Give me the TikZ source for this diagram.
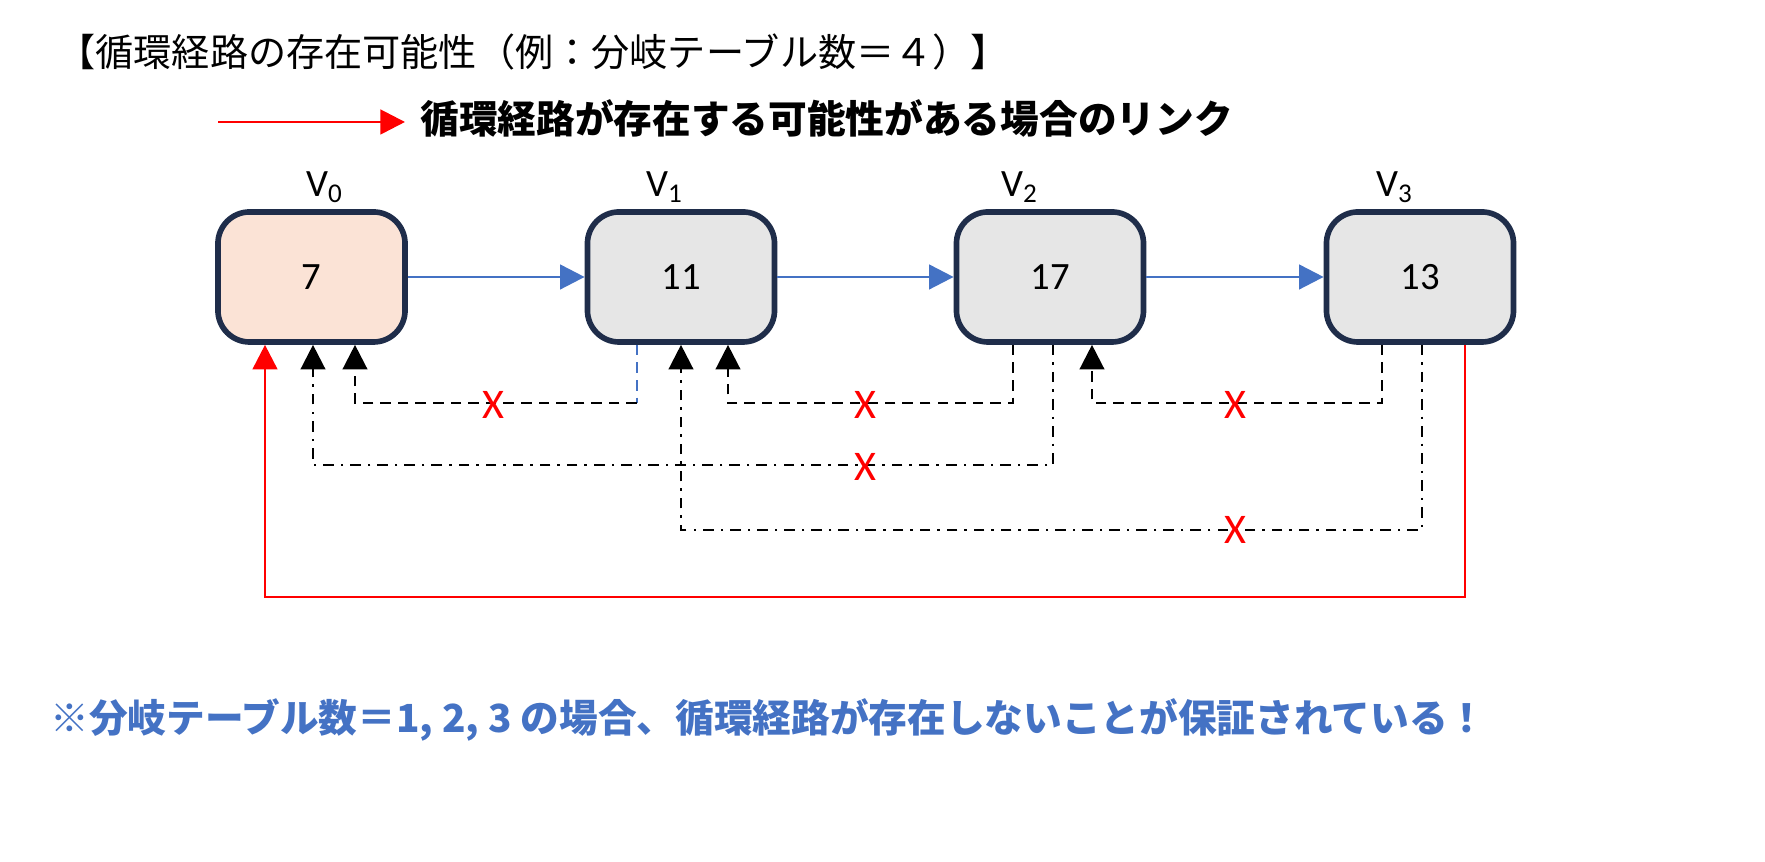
\documentclass[tikz,border=0pt]{standalone}
\usepackage{fontspec}
\setmainfont{Carlito}
\newfontfamily\cjk{Noto Sans CJK JP}
\usetikzlibrary{arrows.meta}
\definecolor{boxline}{HTML}{1F2D4A}
\definecolor{peach}{HTML}{FBE3D6}
\definecolor{lgray}{HTML}{E6E6E6}
\definecolor{linkblue}{HTML}{4472C4}
\tikzset{
  tbl/.style={draw=boxline, line width=1.6pt, rounded corners=9pt, minimum width=1.87cm, minimum height=1.30cm, font=\fontsize{11}{13}\selectfont},
  fwd/.style={draw=linkblue, line width=0.8pt, -{Triangle[length=7pt,width=7pt]}},
  back/.style={black, line width=0.7pt, densely dashed, -{Triangle[length=7pt,width=7pt]}},
  backdd/.style={black, line width=0.7pt, dash dot, -{Triangle[length=7pt,width=7pt]}},
  loop/.style={red, line width=0.8pt, -{Triangle[length=7pt,width=7pt]}},
  cross/.style={red, font=\fontsize{12}{14}\selectfont},
  vlabel/.style={font=\fontsize{11}{13}\selectfont}
}
\begin{document}
\begin{tikzpicture}[x=0.01cm, y=-0.01cm]
    % title and legend
    \node[anchor=west, font=\cjk\fontsize{10.85}{13}\selectfont] (title) at (45,52) {【循環経路の存在可能性（例：分岐テーブル数＝４）】};
    \coordinate (legA) at (218,122);
    \coordinate (legB) at (405,122);
    \draw[loop] (legA) -- (legB);
    \node[anchor=west, font=\cjk\bfseries\fontsize{11}{13}\selectfont] (legend) at (408,118) {循環経路が存在する可能性がある場合のリンク};
    % tables
    \node[tbl, fill=peach] (v0) at (311.5,277) {7};
    \node[tbl, fill=lgray] (v1) at (681,277) {11};
    \node[tbl, fill=lgray] (v2) at (1050,277) {17};
    \node[tbl, fill=lgray] (v3) at (1420,277) {13};
    \node[vlabel] (l0) at (325,187) {V\textsubscript{0}};
    \node[vlabel] (l1) at (665,187) {V\textsubscript{1}};
    \node[vlabel] (l2) at (1020,187) {V\textsubscript{2}};
    \node[vlabel] (l3) at (1395,187) {V\textsubscript{3}};
    % forward links
    \draw[fwd] (v0) -- (v1);
    \draw[fwd] (v1) -- (v2);
    \draw[fwd] (v2) -- (v3);
    % backward links
    \draw[linkblue, densely dashed, line width=0.7pt] (v1.south -| 637,0) -- (637,403);
    \draw[back] (637,403) -- (355,403) -- (v0.south -| 355,0);
    \draw[back] (v2.south -| 1013,0) -- (1013,403) -- (728,403) -- (v1.south -| 728,0);
    \draw[back] (v3.south -| 1382,0) -- (1382,403) -- (1092,403) -- (v2.south -| 1092,0);
    \draw[backdd] (v2.south -| 1053,0) -- (1053,465) -- (313,465) -- (v0.south -| 313,0);
    \draw[backdd] (v3.south -| 1422,0) -- (1422,530) -- (681,530) -- (v1.south -| 681,0);
    \draw[loop] (v3.south -| 1465,0) -- (1465,597) -- (265,597) -- (v0.south -| 265,0);
    % marks
    \node[cross] (x1) at (493,405) {X};
    \node[cross] (x2) at (865,405) {X};
    \node[cross] (x3) at (1235,405) {X};
    \node[cross] (x4) at (865,467) {X};
    \node[cross] (x5) at (1235,530) {X};
    % note
    \node[anchor=west, text=linkblue, font=\cjk\bfseries\fontsize{11}{13}\selectfont] (note) at (38,720) {※分岐テーブル数＝1, 2, 3 の場合、循環経路が存在しないことが保証されている！};
    \pgfresetboundingbox
    \useasboundingbox (0,0) rectangle (1765,862);
\end{tikzpicture}
\end{document}
